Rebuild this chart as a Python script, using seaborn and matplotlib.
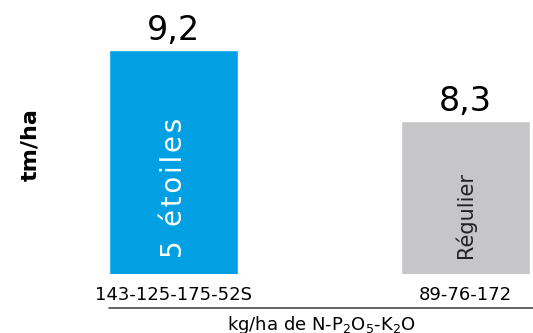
import pandas as pd
import matplotlib
matplotlib.use("Agg")
import matplotlib.pyplot as plt
import seaborn as sns

# -------------------------------
# data
# -------------------------------
programmes = ['5 étoiles', 'Régulier']
rendement = [9.2, 8.3]                       # tm/ha
value_labels = ['9,2', '8,3']
dose_labels = ['143-125-175-52S', '89-76-172']
bar_colors = ['#00A0E3', '#C6C6C8']
inner_colors = ['white', '#222222']

df = pd.DataFrame({'programme': programmes, 'rendement': rendement})

sns.set_style('white')
plt.rcParams['font.family'] = ['DejaVu Sans']
plt.rcParams['text.color'] = 'black'
plt.rcParams['axes.labelcolor'] = 'black'
plt.rcParams['xtick.color'] = 'black'

fig = plt.figure(figsize=(5.33, 3.33), dpi=100)
ax = fig.add_axes([109 / 533, 59 / 333, 424 / 533, 224 / 333])

sns.barplot(data=df, x='programme', y='rendement', hue='programme',
            palette=bar_colors, width=0.442, legend=False, ax=ax,
            saturation=1)

ax.set_ylim(6.36, 9.2)
ax.set_xlim(-0.221, 1.231)
sns.despine(ax=ax, left=True, bottom=True)
ax.set_yticks([])

# tick labels = fertiliser doses
ax.set_xticks(range(len(dose_labels)))
ax.set_xticklabels(dose_labels, fontsize=13)
ax.tick_params(axis='x', length=0, pad=9)

# rule under the tick labels
ax.plot([0, 1], [-0.152, -0.152], transform=ax.transAxes, color='#4a4a4a',
        lw=1.2, clip_on=False)

ax.set_xlabel('kg/ha de N-P$_2$O$_5$-K$_2$O', fontsize=13, labelpad=7)
ax.set_ylabel('tm/ha', fontsize=16, fontweight='bold')
ax.yaxis.set_label_coords(-0.162, 0.576)

# values on top + names inside bars
for i, v in enumerate(rendement):
    ax.annotate(value_labels[i], (i, v), xytext=(0, 2), textcoords='offset points',
                ha='center', va='bottom', fontsize=24, clip_on=False)
    if i == 0:
        name, size = '\u200a'.join(programmes[i]), 20
    else:
        name, size = programmes[i], 15
    ax.text(i, 6.56, name, rotation=90, ha='center', va='bottom',
            color=inner_colors[i], fontsize=size)

fig.savefig('out.png', dpi=100)
